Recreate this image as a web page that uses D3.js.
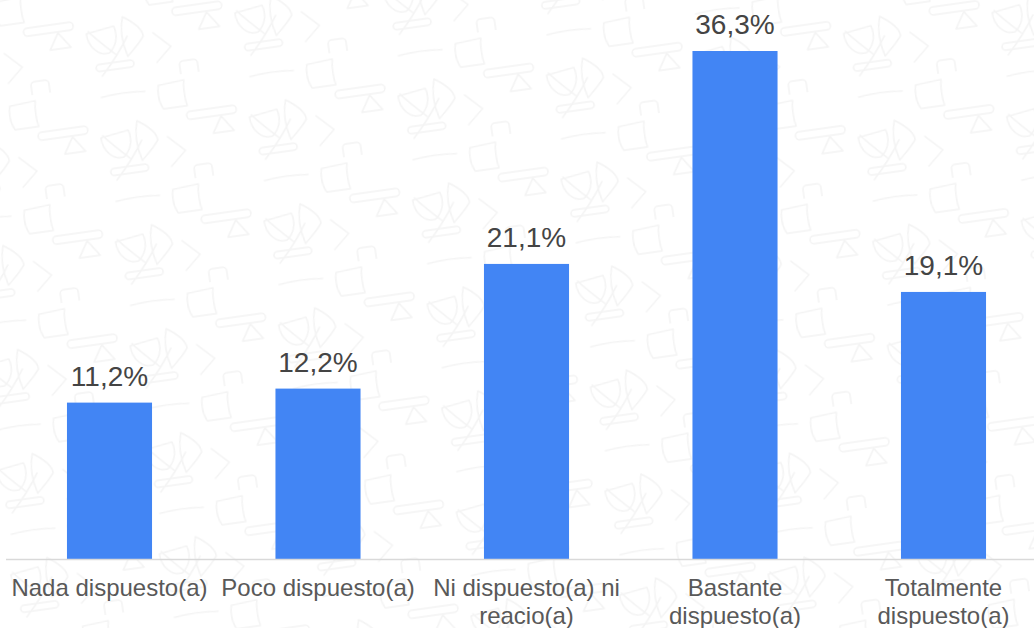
<!DOCTYPE html>
<html>
<head>
<meta charset="utf-8">
<script src="https://cdn.jsdelivr.net/npm/d3@7"></script>
<style>
  html, body { margin: 0; padding: 0; background: #ffffff; }
  svg { display: block; }
  text { font-family: "Liberation Sans", Arial, sans-serif; }
</style>
</head>
<body>
<div id="chart"></div>
<script>
// ---- data ----
const categories = [
  "Nada dispuesto(a)",
  "Poco dispuesto(a)",
  "Ni dispuesto(a) ni reacio(a)",
  "Bastante dispuesto(a)",
  "Totalmente dispuesto(a)"
];
const values = [11.2, 12.2, 21.1, 36.3, 19.1];
const valueLabels = ["11,2%", "12,2%", "21,1%", "36,3%", "19,1%"];

// ---- layout ----
const W = 1034, H = 628;
const svg = d3.select("#chart").append("svg").attr("width", W).attr("height", H);

// faint decorative background pattern
const defs = svg.append("defs");
const pat = defs.append("pattern").attr("id", "bgpat")
  .attr("patternUnits", "userSpaceOnUse").attr("width", 150).attr("height", 105)
  .attr("patternTransform", "translate(-10,-5) rotate(-8)");
const ps = pat.append("g").attr("fill", "none").attr("stroke", "#f4f4f4")
  .attr("stroke-width", 1.6).attr("stroke-linejoin", "round").attr("stroke-linecap", "round");
ps.append("path").attr("d", "M62,47 L73,63 L52,63 Z");
ps.append("rect").attr("x", 28).attr("y", 92).attr("width", 18).attr("height", 18).attr("rx", 4);
ps.append("rect").attr("x", 30).attr("y", 50).attr("width", 50).attr("height", 8).attr("rx", 4).attr("transform","translate(-2,-12)");
ps.append("path").attr("d", "M92,50 C100,60 110,70 116,76 M130,60 C120,75 108,88 100,96");
ps.append("path").attr("d", "M90,52 L118,48 C122,60 116,70 110,74 C100,76 90,66 90,52 Z");
ps.append("path").attr("d", "M128,40 C140,48 146,55 146,62 C140,70 132,76 128,80 C124,66 124,52 128,40 Z");
ps.append("path").attr("d", "M4,8 L30,6 C28,16 28,22 30,32 L6,32 C2,24 2,16 4,8 Z");
ps.append("path").attr("d", "M96,12 C110,10 125,10 140,12");
ps.append("rect").attr("x", 95).attr("y", 84).attr("width", 38).attr("height", 7).attr("rx", 3.5);
ps.append("path").attr("d", "M6,60 L22,76 L6,90");
svg.append("rect").attr("width", W).attr("height", H).attr("fill", "url(#bgpat)");

const baseY = 559.5;
const x = d3.scaleBand()
  .domain(categories)
  .range([5.25, 1047.75])
  .paddingInner(0.592)
  .paddingOuter(0.296);

const y = d3.scaleLinear()
  .domain([0, 36.3])
  .range([baseY, 51]);

// bars
svg.append("g").selectAll("rect")
  .data(values)
  .join("rect")
  .attr("x", (d, i) => x(categories[i]))
  .attr("y", d => y(d))
  .attr("width", x.bandwidth())
  .attr("height", d => baseY - y(d))
  .attr("fill", "#4285f4");

// value labels
svg.append("g").selectAll("text")
  .data(values)
  .join("text")
  .attr("x", (d, i) => x(categories[i]) + x.bandwidth() / 2)
  .attr("y", d => y(d) - 17)
  .attr("text-anchor", "middle")
  .attr("font-size", "28px")
  .attr("fill", "#444444")
  .text((d, i) => valueLabels[i]);

// x axis
const xAxis = d3.axisBottom(x).tickSize(0).tickPadding(0);
const gx = svg.append("g").attr("transform", `translate(0,${baseY})`).call(xAxis);
gx.select(".domain").attr("stroke", "#d9d9d9").attr("stroke-width", 1.5)
  .attr("d", `M6,0H${W}`);
gx.selectAll(".tick text")
  .attr("font-size", "24px")
  .attr("font-family", "Liberation Sans, Arial, sans-serif")
  .attr("fill", "#595959")
  .attr("y", 0)
  .attr("dy", 0)
  .call(wrap, 206);

function wrap(texts, width) {
  texts.each(function() {
    const t = d3.select(this);
    const words = t.text().split(/\s+/);
    t.text(null);
    const lines = [];
    let line = [];
    const tmp = t.append("tspan");
    for (const w of words) {
      line.push(w);
      tmp.text(line.join(" "));
      if (tmp.node().getComputedTextLength() > width && line.length > 1) {
        line.pop();
        lines.push(line.join(" "));
        line = [w];
      }
    }
    lines.push(line.join(" "));
    tmp.remove();
    lines.forEach((l, i) => {
      t.append("tspan").attr("x", 0).attr("y", 36 + i * 28).text(l);
    });
  });
}
</script>
</body>
</html>
